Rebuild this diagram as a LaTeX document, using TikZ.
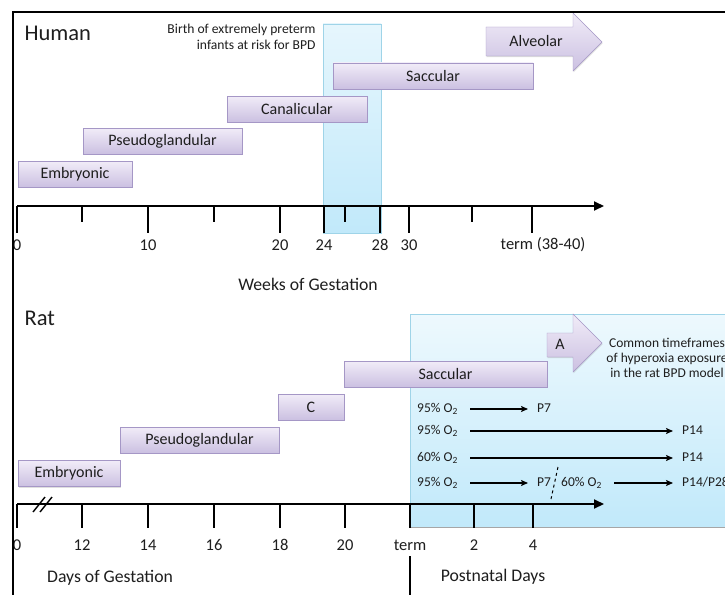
\documentclass[tikz,border=0pt]{standalone}
\usepackage{fontspec}
\setmainfont{Carlito}
\usetikzlibrary{positioning, arrows.meta, shadows}
\definecolor{lavtop}{HTML}{F1ECF8}
\definecolor{lavbot}{HTML}{CBC0E1}
\definecolor{lavln}{HTML}{A597C6}
\definecolor{cyantop}{HTML}{E6F6FD}
\definecolor{cyanbot}{HTML}{C1E9FA}
\definecolor{cyanln}{HTML}{9FD4E8}
\definecolor{txt}{HTML}{1E1E1E}

\begin{document}
\begin{tikzpicture}[x=1pt, y=-1pt,
	stg/.style={draw=lavln, top color=lavtop, bottom color=lavbot,
		minimum height=26pt, inner sep=0pt, text=txt,
		font=\fontsize{16}{18}\selectfont,
		drop shadow={shadow xshift=0.6pt, shadow yshift=-1.2pt, opacity=0.25}},
	shp/.style={draw=lavln, top color=lavtop, bottom color=lavbot,
		drop shadow={shadow xshift=0.6pt, shadow yshift=-1.2pt, opacity=0.25}},
	lbl/.style={font=\fontsize{16.5}{18}\selectfont, text=txt, inner sep=0pt},
	row/.style={font=\fontsize{13.5}{15}\selectfont, text=txt, inner sep=0pt,
		anchor=west, text height=9pt, text depth=3pt},
	arr/.style={-{Stealth[length=7pt, width=6pt, inset=1.5pt]}, line width=1.2pt,
		shorten <=12pt, shorten >=9pt},
	axs/.style={line width=2pt, -{Triangle[length=10pt, width=9pt]}},
	tck/.style={line width=1.6pt}]
	\clip (0,0) rectangle (725,594);
	\fill[white] (0,0) rectangle (725,594);

	% human
	\shade[top color=cyantop, bottom color=cyanbot, draw=cyanln] (323,24) rectangle (381,233);
	\node [font=\fontsize{22.5}{24}\selectfont, anchor=west, text=txt] (hum) at (21,33) {Human};
	\node [font=\fontsize{13.6}{16}\selectfont, anchor=east, align=right, text=txt] (birth) at (319,37)
		{Birth of extremely preterm\\infants at risk for BPD};
	\node [stg, minimum width=114pt] (hemb) at (75,174) {Embryonic};
	\node [stg, minimum width=159pt] (hpse) at (162.5,141) {Pseudoglandular};
	\node [stg, minimum width=140pt] (hcan) at (297,109) {Canalicular};
	\node [stg, minimum width=200pt] (hsac) at (433,76) {Saccular};
	\draw [shp] (486,27) -- (573,27) -- (573,13) -- (602,42) -- (573,71) -- (573,56) -- (486,56) -- cycle;
	\node [lbl, font=\fontsize{16}{18}\selectfont] (halv) at (536,41.5) {Alveolar};

	\draw [axs] (17,206) -- (604,206);
	\foreach \x in {17,148,280,324,380,409,532}
		\draw [tck] (\x,206) -- (\x,233);
	\foreach \x in {82,214,345,472}
		\draw [tck] (\x,206) -- (\x,222);
	\node [lbl] (h0) at (17,245) {0};
	\node [lbl] (h10) at (148,245) {10};
	\node [lbl] (h20) at (280,245) {20};
	\node [lbl] (h24) at (324,245) {24};
	\node [lbl] (h28) at (380,245) {28};
	\node [lbl] (h30) at (409,245) {30};
	\node [lbl] (hterm) at (543,245) {term (38-40)};
	\node [lbl, font=\fontsize{17.7}{19}\selectfont] (hweeks) at (308,284) {Weeks of Gestation};

	% rat
	\shade[top color=cyantop!70!white, bottom color=cyanbot, draw=cyanln] (410,314) rectangle (730,527);
	\draw [black!35, line width=1.2pt] (410,527.5) -- (725,527.5);
	\node [font=\fontsize{22.5}{24}\selectfont, anchor=west, text=txt] (rat) at (21,318) {Rat};
	\node [stg, minimum width=102pt] (remb) at (69,473.5) {Embryonic};
	\node [stg, minimum width=159pt] (rpse) at (199.5,440) {Pseudoglandular};
	\node [stg, minimum width=66pt] (rcan) at (311,407) {C};
	\node [stg, minimum width=203pt] (rsac) at (445.5,374) {Saccular};
	\draw [shp] (547,333) -- (573,333) -- (573,314) -- (602,343) -- (573,372) -- (573,357) -- (547,357) -- cycle;
	\node [lbl, font=\fontsize{16}{18}\selectfont] (ralv) at (560,344) {A};
	\node [font=\fontsize{13.5}{15}\selectfont, align=center, text=txt] (common) at (667,358)
		{Common timeframes\\of hyperoxia exposure\\in the rat BPD model};

	\node [row] (r1a) at (417,409) {95\% O\textsubscript{2}};
	\node [row] (r1b) at (537,409) {P7};
	\node [row] (r2a) at (417,431) {95\% O\textsubscript{2}};
	\node [row] (r2b) at (682,431) {P14};
	\node [row] (r3a) at (417,458) {60\% O\textsubscript{2}};
	\node [row] (r3b) at (682,458) {P14};
	\node [row] (r4a) at (417,483) {95\% O\textsubscript{2}};
	\node [row] (r4b) at (537,483) {P7};
	\node [row] (r4c) at (561,483) {60\% O\textsubscript{2}};
	\node [row] (r4d) at (682,483) {P14/P28};
	\draw [arr] (r1a) -- (r1b);
	\draw [arr] (r2a) -- (r2b);
	\draw [arr] (r3a) -- (r3b);
	\draw [arr] (r4a) -- (r4b);
	\draw [arr] (r4c) -- (r4d);
	\draw [dashed, line width=1pt] (558,467) -- (551,499);

	\draw [axs] (17,504) -- (604,504);
	\foreach \x in {17,82,148,214,280,345,410,474,533}
		\draw [tck] (\x,504) -- (\x,528);
	\draw [line width=1.4pt] (33,512) -- (45,497);
	\draw [line width=1.4pt] (40,512) -- (52,497);
	\node [lbl] (r0) at (17,545) {0};
	\node [lbl] (r12) at (82,545) {12};
	\node [lbl] (r14) at (148,545) {14};
	\node [lbl] (r16) at (214,545) {16};
	\node [lbl] (r18) at (280,545) {18};
	\node [lbl] (r20) at (345,545) {20};
	\node [lbl] (rterm) at (410,545) {term};
	\node [lbl] (rp2) at (474,545) {2};
	\node [lbl] (rp4) at (533,545) {4};
	\draw [tck] (410,556) -- (410,600);
	\node [lbl, font=\fontsize{17.7}{19}\selectfont] (rdays) at (110,578) {Days of Gestation};
	\node [lbl, font=\fontsize{17.7}{19}\selectfont] (rpost) at (493,577) {Postnatal Days};

	% frame
	\draw [line width=2.6pt] (13,600) -- (13,12) -- (730,12);
\end{tikzpicture}
\end{document}
